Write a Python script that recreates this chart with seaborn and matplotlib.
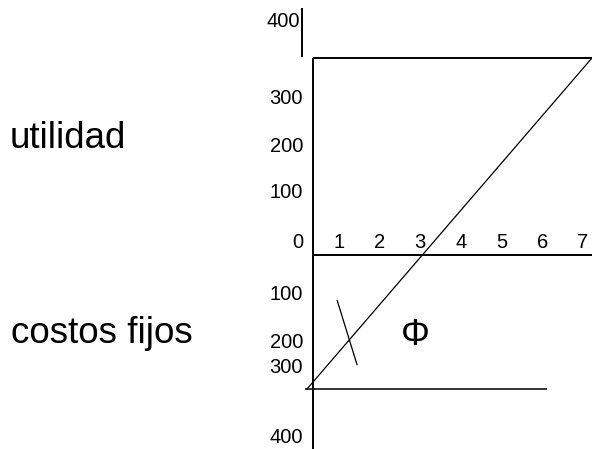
import matplotlib
matplotlib.use("Agg")
import matplotlib.pyplot as plt
import matplotlib.transforms as mtransforms
import pandas as pd
import seaborn as sns

# Datos (punto de equilibrio)
unidades = [0, 7]
costos_fijos = 255
utilidad_max = 375
resultado = [-costos_fijos, utilidad_max]
etiquetas_x = [1, 2, 3, 4, 5, 6, 7]
etiquetas_utilidad = ["400", "300", "200", "100", "0"]
etiquetas_costos = ["100", "200", "300", "400"]
marca_u = [0.74, 1.23]
marca_v = [-86, -209]

sns.set_style("white")
plt.rcParams['font.family'] = ['Liberation Sans', 'DejaVu Sans']
plt.rcParams['text.color'] = 'black'

fig = plt.figure(figsize=(5.92, 4.49), dpi=100)
ax = fig.add_axes([0, 0, 1, 1])

df = pd.DataFrame({'unidades': unidades, 'resultado': resultado})
sns.lineplot(data=df, x='unidades', y='resultado', ax=ax, color='black', linewidth=0.9)

# escala del dibujo: x -> 40.7 px por unidad, y -> 0.525 px por peso
ax.set_xlim(-7.54, 7.0)
ax.set_ylim(-369.2, 485.3)
ax.set_axis_off()

eje_u = 0.147
ax.vlines(eje_u, -369.2, utilidad_max, color='black', lw=1.4)
ax.vlines(-0.123, utilidad_max + 2, 470, color='black', lw=1.4)
ax.hlines(utilidad_max, eje_u, 7.0, color='black', lw=1.4)
ax.hlines(0, eje_u, 7.0, color='black', lw=1.4)
ax.hlines(-costos_fijos, -0.05, 5.9, color='black', lw=1.1)
ax.plot(marca_u, marca_v, color='black', lw=0.9)

ax.text(2.67, -171, "Φ", ha='center', va='baseline', fontsize=26)

def px(x, y):
    return x / 592, 1 - y / 449

# etiquetas eje x
off = mtransforms.offset_copy(ax.transData, fig=fig, x=-9, y=7, units='dots')
for k in etiquetas_x:
    ax.text(k, 0, str(k), transform=off, ha='center', va='baseline', fontsize=14.5)

# etiquetas eje y (colocadas a mano como en el dibujo)
base_util = [27, 104, 152, 198, 248]
for lab, yb in zip(etiquetas_utilidad, base_util):
    xr = 300 if lab == "400" else 303
    ax.text(*px(xr, yb), lab, transform=ax.transAxes, ha='right', va='baseline', fontsize=14.5)
base_costos = [300, 348, 373, 443]
for lab, yb in zip(etiquetas_costos, base_costos):
    ax.text(*px(303, yb), lab, transform=ax.transAxes, ha='right', va='baseline', fontsize=14.5)

ax.text(*px(10, 148), "utilidad", transform=ax.transAxes, ha='left', va='baseline', fontsize=26.5)
ax.text(*px(11, 343), "costos fijos", transform=ax.transAxes, ha='left', va='baseline', fontsize=26.5)

fig.savefig("out.png", dpi=100)
